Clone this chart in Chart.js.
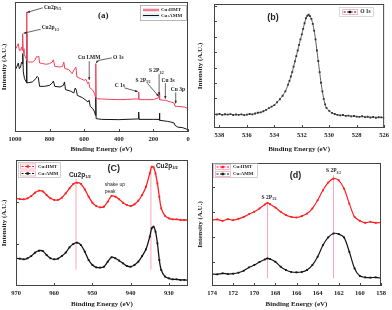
<!DOCTYPE html>
<html lang="en">
<head>
<meta charset="UTF-8">
<script src="https://cdn.jsdelivr.net/npm/chart.js"></script>
<title>XPS</title>
<style>
  body { margin: 0; background: #fff; }
  .painel { position: absolute; width: 196px; height: 155px; }
</style>
</head>
<body>
<div class="painel" style="left:0;top:0"><canvas id="graficoA" width="196" height="155"></canvas></div>
<div class="painel" style="left:196px;top:0"><canvas id="graficoB" width="196" height="155"></canvas></div>
<div class="painel" style="left:0;top:155px"><canvas id="graficoC" width="196" height="155"></canvas></div>
<div class="painel" style="left:196px;top:155px"><canvas id="graficoD" width="196" height="155"></canvas></div>

<script>
// (a) survey
const eHmtA = [1000,990,981,975,968,962,958,956,953,948,940,935,933,931,920,900,885,875,868,862,858,840,820,800,785,778,770,740,725,718,712,690,670,655,648,642,620,600,590,580,574,568,560,550,540,535,533,531,500,450,400,350,300,287,285,283,250,200,170,166,164,140,122,120,100,80,75,60,40,20,0]
const vHmtA = [63.3,65.4,68,62.8,62.8,65.4,62.8,75.6,64.1,60.3,57.7,56.4,92.3,55.1,53.8,53.8,55.1,58.2,57.7,58.2,53.1,52.6,52.1,52.6,53.8,55.6,50.5,50,50.5,53.8,48.7,48.2,44.9,48.7,50,42.3,41,39.7,40.5,37.2,38.5,34.1,33.3,32,29.5,26.9,52.6,25.6,25.4,25.1,24.9,25.1,25.4,25.4,30.8,24.9,24.9,24.9,26.4,29.5,24.9,24.4,24.4,23.8,23.1,22.3,19.7,19.7,19.5,19.2,17.9]
const eAmmA = [1000,990,981,975,968,962,958,955,952,945,935,933,931,900,880,872,865,858,830,800,785,778,770,740,720,714,708,680,660,652,645,640,610,590,578,572,565,550,540,535,533,531,500,400,300,287,285,283,200,167,165,163,120,100,80,75,60,30,0]
const vAmmA = [47.4,50,53.1,48.7,50,53.8,52.6,60.3,46.2,41,38.5,75.6,37.7,38.5,41,42.8,41.8,35.1,35.1,35.9,37.7,39.2,35.1,34.6,35.9,38.5,32.6,31.5,30,33.8,32,28.2,26.4,24.4,23.1,24.4,19.7,17.9,15.4,12.8,26.9,10.3,9.7,9.5,10,10,15.4,9.7,9.7,9.7,14.6,9,8.2,7.7,6.9,5.1,3.8,3.3,1.8]
const ticksA = [1000,800,600,400,200,0]

// (b) O 1s
const eB = [538.4,538.2,538.0,537.8,537.6,537.4,537.2,537.0,536.8,536.6,536.4,536.2,536.0,535.8,535.6,535.4,535.2,535.0,534.8,534.6,534.4,534.2,534.0,533.8,533.6,533.4,533.2,533.0,532.9,532.8,532.7,532.6,532.5,532.4,532.3,532.2,532.1,532.0,531.9,531.8,531.7,531.6,531.5,531.4,531.3,531.2,531.1,531.0,530.9,530.8,530.7,530.6,530.5,530.4,530.3,530.2,530.0,529.8,529.6,529.4,529.2,529.0,528.8,528.6,528.4,528.2,528.0,527.8,527.6,527.4,527.2,527.0,526.8,526.6,526.4,526.2,526.0]
const vB = [11.4,10.9,11.3,10.6,11.1,10.8,11.2,10.5,10.9,10.6,11.0,10.4,10.8,11.3,11.0,11.7,12.3,12.6,13.5,14.6,16.0,17.2,18.5,20.8,23.2,26.0,29.5,35.0,38.0,41.5,45.0,49.5,53.7,58.0,62.5,67.0,71.5,75.5,80.0,84.5,88.5,90.5,91.3,90.2,88.0,84.0,78.5,71.5,62.5,54.0,45.0,36.5,29.5,23.5,19.0,16.2,13.8,12.2,11.3,10.6,10.2,10.5,9.8,10.0,9.4,9.7,9.2,9.0,9.5,8.8,9.1,8.5,8.9,8.3,8.7,8.6,8.0]
const ticksB = [538,536,534,532,530,528,526]
const yMarcasB = [11.4,23.8,36.3,48.7,61.2,73.6,86.1,98.5]

// (c) Cu 2p
const eC = [970,969,968,967,966,965,964,963,962,961,960,959,958,957,956,955,954,953,952,951,950,949,948,947,946,945,944,943,942,941,940,939,938,937,936,935,934.5,934,933.5,933,932.5,932,931,930,929,928,927,926,925]
const hmtC = [69.6,69.0,68.8,69.6,71.4,74.1,75.7,75.1,72.2,69.6,68.3,68.3,70.1,73.5,77.5,81,82,81,76.7,70.9,66.1,63.5,62.4,63,66.9,71.4,70.9,68.8,66.1,64.3,63.5,64.8,67.7,72.2,78.8,89.4,94.7,94.2,89.4,81.5,70.9,61.6,55.6,53.7,52.9,52.9,52.4,52.4,52.4]
const ammC = [22,21.7,21.2,22,23.8,26.5,28,27.8,24.6,22,21.2,21.7,23.8,26.5,30.7,33.3,34.4,32.5,27.2,20.6,16.7,14.8,14.6,15.3,19.3,22.8,22,20.1,18,15.9,15.3,16.7,19.3,23.8,29.1,39.2,45.8,47.1,43.1,33.9,20.6,12.7,7.4,6.1,5.3,5.3,4.8,4.8,4.5]
const ticksC = [970,960,950,940,930]
const yMarcasC = [33,67]

// (d) S 2p
const eD = [174,173.5,173,172.5,172,171.5,171,170.5,170,169.5,169,168.75,168.5,168,167.5,167,166.5,166,165.5,165,164.5,164,163.5,163,162.5,162,161.5,161,160.5,160,159.5,159,158.5,158]
const hmtD = [53.5,54.1,53,54.3,53.5,54.6,56.2,58.4,60.3,63,66.2,67.6,66.5,63.8,60.3,57.6,56.2,55.7,56.8,58.9,63,69.7,77.8,84.1,87.3,85.9,79.2,67,56.2,53,51.4,52.2,51.4,51.6]
const ammD = [9.7,9.5,10.3,9.7,10,10.8,12.4,15.1,17,19.5,21.6,22.4,21.9,19.7,15.7,13,11.4,11.1,11.4,13,17,23.8,33.2,39.5,42.7,42.2,39.5,27.8,14.3,8.1,7,6.8,7,6.5]
const ticksD = [174,172,170,168,166,164,162,160,158]
const yMarcasD = [19.7,40,60.3,80.6]

const serif = "'Liberation Serif', 'Times New Roman', serif"
const sans = "'Liberation Sans', Arial, sans-serif"
const vermA = '#f0415c'
const verm = '#ff1f1f'
const preto = '#151515'
const rosa = '#f6a9bb'

function pontos(xs, ys) {
  return xs.map((x, i) => ({ x: x, y: ys[i] }))
}

function eixos(minX, maxX, marcas, larguraY, alturaX) {
  return {
    x: {
      type: 'linear', min: minX, max: maxX, reverse: true,
      afterBuildTicks: s => { s.ticks = marcas.map(v => ({ value: v })) },
      afterFit: s => { s.height = alturaX },
      grid: { display: false, drawTicks: false }, border: { display: false },
      ticks: { font: { family: serif, size: 6.5, weight: 'bold' }, color: '#222', padding: 3, maxRotation: 0, autoSkip: false, callback: v => String(v) },
      title: { display: true, text: 'Binding Energy (eV)', font: { family: serif, size: 7, weight: 'bold' }, color: '#222', padding: 0 }
    },
    y: {
      min: 0, max: 100,
      afterFit: s => { s.width = larguraY },
      grid: { display: false, drawTicks: false }, border: { display: false },
      ticks: { display: false },
      title: { display: true, text: 'Intensity (A.U.)', font: { family: serif, size: 7, weight: 'bold' }, color: '#222', padding: 0 }
    }
  }
}

function moldura(c, xMarcas, yMarcas) {
  const ctx = c.ctx, a = c.chartArea
  ctx.save()
  ctx.strokeStyle = '#444'
  ctx.lineWidth = 1
  ctx.strokeRect(a.left + 0.5, a.top + 0.5, a.right - a.left - 1, a.bottom - a.top - 1)
  ctx.beginPath()
  xMarcas.forEach(v => {
    const x = Math.round(c.scales.x.getPixelForValue(v)) + 0.5
    ctx.moveTo(x, a.bottom); ctx.lineTo(x, a.bottom - 3)
  })
  yMarcas.forEach(v => {
    const y = Math.round(c.scales.y.getPixelForValue(v)) + 0.5
    ctx.moveTo(a.left, y); ctx.lineTo(a.left + 3, y)
  })
  ctx.stroke()
  ctx.restore()
}

function rotulo(ctx, x, y, txt, sub, tam, alinha, familia, peso) {
  peso = peso || 'bold'
  ctx.font = peso + ' ' + tam + 'px ' + familia
  const w1 = ctx.measureText(txt).width
  ctx.font = peso + ' ' + (tam * 0.62) + 'px ' + familia
  const w2 = sub ? ctx.measureText(sub).width : 0
  let x0 = x
  if (alinha == 'center') x0 = x - (w1 + w2) / 2
  if (alinha == 'right') x0 = x - w1 - w2
  ctx.textAlign = 'left'
  ctx.textBaseline = 'middle'
  ctx.font = peso + ' ' + tam + 'px ' + familia
  ctx.fillText(txt, x0, y)
  if (sub) {
    ctx.font = peso + ' ' + (tam * 0.62) + 'px ' + familia
    ctx.fillText(sub, x0 + w1, y + tam * 0.3)
  }
}

function seta(ctx, x1, y1, x2, y2) {
  ctx.beginPath(); ctx.moveTo(x1, y1); ctx.lineTo(x2, y2); ctx.stroke()
  const ang = Math.atan2(y2 - y1, x2 - x1), t = 3
  ctx.beginPath()
  ctx.moveTo(x2, y2)
  ctx.lineTo(x2 - t * Math.cos(ang - 0.4), y2 - t * Math.sin(ang - 0.4))
  ctx.lineTo(x2 - t * Math.cos(ang + 0.4), y2 - t * Math.sin(ang + 0.4))
  ctx.closePath(); ctx.fill()
}

function amostra(ctx, x, y, cor, texto, tam) {
  // pink box with dashed line and square marker, like the origin legends
  ctx.strokeStyle = rosa; ctx.lineWidth = 0.8
  ctx.strokeRect(x + 0.5, y - 2.5, 15, 5)
  ctx.strokeStyle = cor; ctx.lineWidth = 1
  ctx.setLineDash([2, 1.5])
  ctx.beginPath(); ctx.moveTo(x + 1.5, y); ctx.lineTo(x + 14.5, y); ctx.stroke()
  ctx.setLineDash([])
  ctx.fillStyle = cor
  ctx.fillRect(x + 6.5, y - 1.2, 2.4, 2.4)
  ctx.fillStyle = '#222'
  ctx.font = 'bold ' + tam + 'px ' + serif
  ctx.textAlign = 'left'; ctx.textBaseline = 'middle'
  ctx.fillText(texto, x + 18, y)
}

function desenhaA(c) {
  const ctx = c.ctx, a = c.chartArea
  const X = v => c.scales.x.getPixelForValue(v), Y = v => c.scales.y.getPixelForValue(v)
  moldura(c, ticksA, [])
  ctx.save()
  ctx.fillStyle = '#222'; ctx.strokeStyle = '#222'; ctx.lineWidth = 0.7
  rotulo(ctx, X(833), Y(96), 'Cu2p', '3/2', 5.5, 'left', serif)
  seta(ctx, X(840), Y(95.5), X(930), Y(92))
  rotulo(ctx, X(846), Y(80), 'Cu2p', '1/2', 5.5, 'left', serif)
  seta(ctx, X(852), Y(79), X(950), Y(76))
  rotulo(ctx, X(571), Y(57.2), 'Cu LMM', '', 5.5, 'center', serif)
  seta(ctx, X(571), Y(54.5), X(571), Y(40))
  rotulo(ctx, X(433), Y(57.2), 'O 1s', '', 5.5, 'left', serif)
  ctx.beginPath(); ctx.moveTo(X(440), Y(57)); ctx.lineTo(X(520), Y(55)); ctx.stroke()
  seta(ctx, X(520), Y(55), X(531), Y(53))
  rotulo(ctx, X(394), Y(35.9), 'C 1s', '', 5.5, 'center', serif)
  seta(ctx, X(368), Y(34), X(290), Y(31))
  rotulo(ctx, X(260), Y(39.7), 'S 2P', '3/2', 5.5, 'center', serif)
  seta(ctx, X(235), Y(37.5), X(170), Y(27.5))
  rotulo(ctx, X(183), Y(46.9), 'S 2P', '1/2', 5.5, 'center', serif)
  seta(ctx, X(167), Y(44.5), X(167), Y(28.5))
  rotulo(ctx, X(115), Y(39.7), 'Cu 3s', '', 5.5, 'center', serif)
  seta(ctx, X(131), Y(37.5), X(131), Y(25.5))
  rotulo(ctx, X(58), Y(32.6), 'Cu 3p', '', 5.5, 'center', serif)
  seta(ctx, X(71), Y(30.5), X(71), Y(22))
  rotulo(ctx, X(490), Y(89.7), '(a)', '', 9, 'center', serif)
  // legend box
  const lx = a.right - 48, ly = a.top + 3
  ctx.strokeStyle = '#999'; ctx.lineWidth = 0.7
  ctx.strokeRect(lx + 0.5, ly + 0.5, 46, 15)
  ctx.fillStyle = '#f9b8c6'; ctx.fillRect(lx + 3, ly + 3.5, 16, 3)
  ctx.strokeStyle = vermA; ctx.lineWidth = 1
  ctx.beginPath(); ctx.moveTo(lx + 3, ly + 5); ctx.lineTo(lx + 19, ly + 5); ctx.stroke()
  ctx.strokeStyle = '#bfe6ee'; ctx.lineWidth = 0.8
  ctx.strokeRect(lx + 3, ly + 9, 16, 3)
  ctx.strokeStyle = preto; ctx.lineWidth = 1
  ctx.beginPath(); ctx.moveTo(lx + 3, ly + 10.5); ctx.lineTo(lx + 19, ly + 10.5); ctx.stroke()
  ctx.fillStyle = '#222'
  rotulo(ctx, lx + 21, ly + 5, 'Cu:HMT', '', 5, 'left', serif)
  rotulo(ctx, lx + 21, ly + 10.5, 'Cu:AMM', '', 5, 'left', serif)
  ctx.restore()
}

function desenhaB(c) {
  const ctx = c.ctx, a = c.chartArea
  const X = v => c.scales.x.getPixelForValue(v), Y = v => c.scales.y.getPixelForValue(v)
  moldura(c, ticksB, yMarcasB)
  ctx.save()
  ctx.fillStyle = '#222'
  rotulo(ctx, X(534.1), Y(89.4), '(b)', '', 9, 'center', sans)
  const lx = a.right - 42, ly = a.top + 8
  ctx.strokeStyle = '#ccc'; ctx.lineWidth = 0.7
  ctx.strokeRect(lx - 2.5, ly - 4.5, 34, 9)
  amostra(ctx, lx, ly, preto, 'O 1s', 5.5)
  ctx.restore()
}

function linhasC(c) {
  const ctx = c.ctx
  const X = v => c.scales.x.getPixelForValue(v), Y = v => c.scales.y.getPixelForValue(v)
  ctx.save()
  ctx.strokeStyle = rosa; ctx.lineWidth = 1
  ctx.beginPath()
  ctx.moveTo(X(954.3), Y(85)); ctx.lineTo(X(954.3), Y(13))
  ctx.moveTo(X(934.7), Y(93)); ctx.lineTo(X(934.7), Y(13))
  ctx.stroke()
  ctx.restore()
}

function desenhaC(c) {
  const ctx = c.ctx, a = c.chartArea
  const X = v => c.scales.x.getPixelForValue(v), Y = v => c.scales.y.getPixelForValue(v)
  moldura(c, ticksC, yMarcasC)
  ctx.save()
  ctx.fillStyle = '#222'
  rotulo(ctx, X(953.3), Y(88), 'Cu2p', '1/2', 6.5, 'center', sans)
  rotulo(ctx, X(946.8), Y(80.7), 'shake up', '', 5, 'left', sans, 'normal')
  rotulo(ctx, X(946.8), Y(74.9), 'peak', '', 5, 'left', sans, 'normal')
  rotulo(ctx, X(933.4), Y(95.2), 'Cu2p', '3/2', 6.5, 'left', sans)
  rotulo(ctx, X(944.4), Y(92.9), '(C)', '', 9, 'center', sans)
  const lx = a.left + 2, ly = a.top + 2
  ctx.strokeStyle = '#bbb'; ctx.lineWidth = 0.7
  ctx.strokeRect(lx + 0.5, ly + 0.5, 42, 15)
  amostra(ctx, lx + 2, ly + 4.5, verm, 'Cu:HMT', 4.8)
  amostra(ctx, lx + 2, ly + 11.5, preto, 'Cu:AMM', 4.8)
  ctx.restore()
}

function linhasD(c) {
  const ctx = c.ctx
  const X = v => c.scales.x.getPixelForValue(v), Y = v => c.scales.y.getPixelForValue(v)
  ctx.save()
  ctx.strokeStyle = rosa; ctx.lineWidth = 1
  ctx.beginPath()
  ctx.moveTo(X(168.74), Y(67)); ctx.lineTo(X(168.74), Y(6.2))
  ctx.moveTo(X(162.5), Y(90)); ctx.lineTo(X(162.5), Y(6.2))
  ctx.stroke()
  ctx.restore()
}

function desenhaD(c) {
  const ctx = c.ctx, a = c.chartArea
  const X = v => c.scales.x.getPixelForValue(v), Y = v => c.scales.y.getPixelForValue(v)
  moldura(c, ticksD, yMarcasD)
  ctx.save()
  ctx.fillStyle = '#222'
  rotulo(ctx, X(168.6), Y(71.6), 'S 2P', '1/2', 5.5, 'center', serif)
  rotulo(ctx, X(162.5), Y(93.5), 'S 2P', '3/2', 5.5, 'center', serif)
  rotulo(ctx, X(166.1), Y(90), '(d)', '', 9, 'center', sans)
  const lx = a.left + 1, ly = a.top + 0
  ctx.strokeStyle = '#bbb'; ctx.lineWidth = 0.7
  ctx.strokeRect(lx + 0.5, ly + 0.5, 44, 14)
  amostra(ctx, lx + 2, ly + 4, verm, 'Cu:HMT', 4.8)
  amostra(ctx, lx + 2, ly + 11, preto, 'Cu:AMM', 4.8)
  ctx.restore()
}

function opcoes(minX, maxX, marcas, larguraY, alturaX, pad) {
  return {
    responsive: false,
    animation: false,
    layout: { padding: pad },
    plugins: { legend: { display: false }, tooltip: { enabled: false } },
    scales: eixos(minX, maxX, marcas, larguraY, alturaX)
  }
}

function serie(xs, ys, cor, largura, raio, tensao) {
  return {
    data: pontos(xs, ys), showLine: true, borderColor: cor, borderWidth: largura,
    pointRadius: raio, pointStyle: 'rect', pointBackgroundColor: cor, pointBorderWidth: 0,
    tension: tensao
  }
}

new Chart(document.getElementById('graficoA'), {
  type: 'scatter',
  data: { datasets: [serie(eHmtA, vHmtA, vermA, 1, 0, 0), serie(eAmmA, vAmmA, preto, 1, 0, 0)] },
  options: opcoes(0, 1000, ticksA, 15, 21, { top: 2, right: 8, bottom: 2, left: 0 }),
  plugins: [{ id: 'decoA', afterDraw: desenhaA }]
})

new Chart(document.getElementById('graficoB'), {
  type: 'scatter',
  data: { datasets: [serie(eB, vB, '#333', 0.8, 1.3, 0.2)] },
  options: opcoes(526, 538.4, ticksB, 18, 25, { top: 2, right: 7, bottom: 2, left: 0 }),
  plugins: [{ id: 'decoB', afterDraw: desenhaB }]
})

new Chart(document.getElementById('graficoC'), {
  type: 'scatter',
  data: { datasets: [serie(eC, hmtC, verm, 1.3, 1.3, 0.3), serie(eC, ammC, preto, 1.3, 1.3, 0.3)] },
  options: opcoes(925, 970, ticksC, 16, 22, { top: 5, right: 8, bottom: 2, left: 0 }),
  plugins: [{ id: 'decoC', beforeDatasetsDraw: linhasC, afterDraw: desenhaC }]
})

new Chart(document.getElementById('graficoD'), {
  type: 'scatter',
  data: { datasets: [serie(eD, hmtD, verm, 1.2, 1.3, 0.3), serie(eD, ammD, preto, 1.2, 1.3, 0.3)] },
  options: opcoes(158, 174, ticksD, 16, 22, { top: 8, right: 11, bottom: 2, left: 0 }),
  plugins: [{ id: 'decoD', beforeDatasetsDraw: linhasD, afterDraw: desenhaD }]
})
</script>
</body>
</html>
